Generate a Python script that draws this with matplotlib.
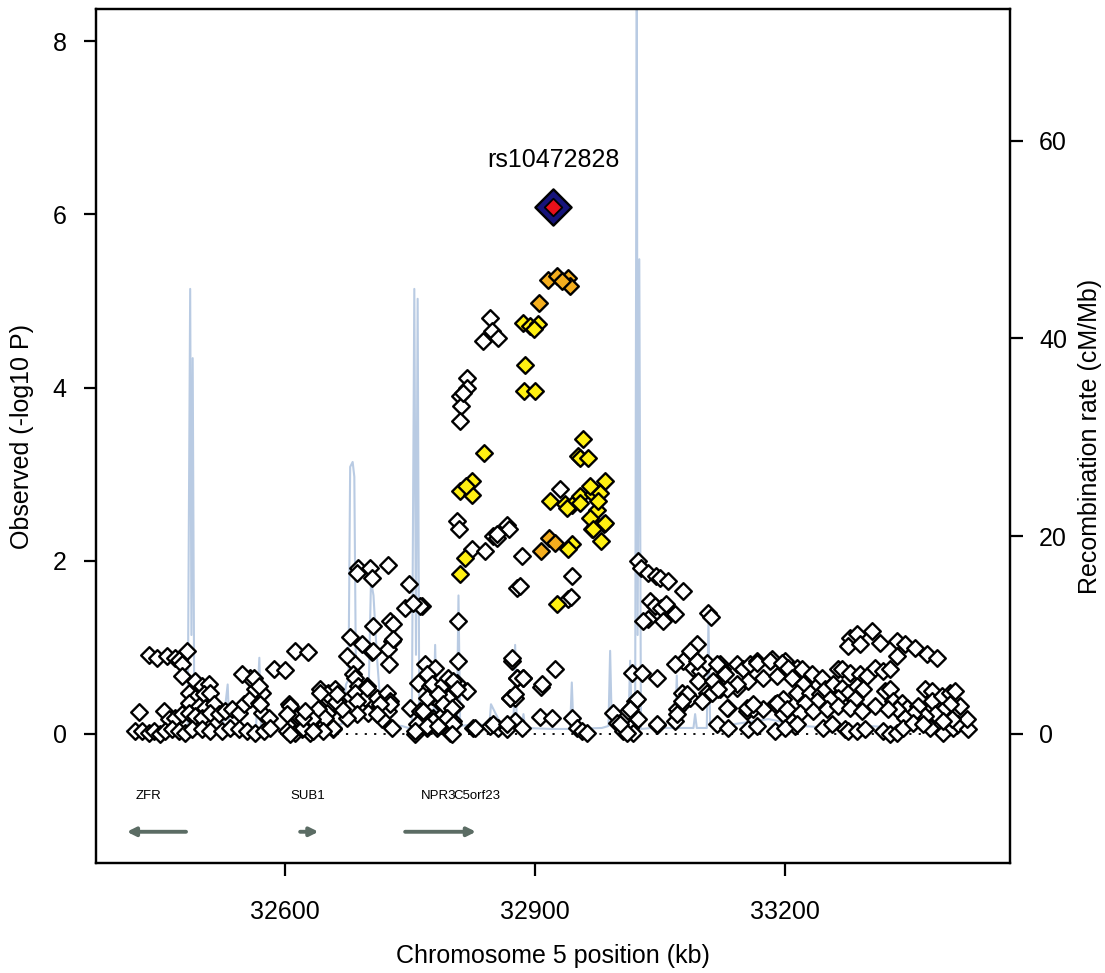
import numpy as np
import matplotlib
matplotlib.use("Agg")
import matplotlib.pyplot as plt

plt.rcParams['font.family'] = ['Liberation Sans', 'DejaVu Sans']

# ---- SNP data: position (kb) and -log10 P ----
lead_pos = 32922
lead_p = 6.09
lead_name = "rs10472828"

orange_pos = [32916, 32926, 32940, 32942, 32932, 32905, 32907, 32917, 32924]
orange_p = [5.24, 5.29, 5.26, 5.17, 5.23, 4.97, 2.11, 2.26, 2.20]

yellow_pos = [32886, 32894, 32904, 32899, 32888, 32887, 32900, 32839, 32810, 32824,
              32824, 32817, 32958, 32952, 32954, 32964, 32918, 32936, 32944, 32954,
              32970, 32984, 32978, 32974, 32972, 32983, 32979, 32968, 32966, 32816,
              32810, 32926, 32944, 32940, 32976, 32938, 32954, 32966, 32970, 32984]
yellow_p = [4.75, 4.71, 4.73, 4.68, 4.26, 3.96, 3.96, 3.24, 2.81, 2.92,
            2.76, 2.86, 3.41, 3.21, 3.19, 3.19, 2.69, 2.66, 2.64, 2.75,
            2.77, 2.92, 2.78, 2.58, 2.40, 2.42, 2.23, 2.37, 2.86, 2.03,
            1.85, 1.50, 2.19, 2.14, 2.69, 2.61, 2.67, 2.49, 2.37, 2.44]

white_pos = [
    # upper cluster near the peak
    32846, 32848, 32838, 32856, 32818, 32810, 32818, 32811, 32810, 32814,
    32806, 32809, 32850, 32854, 32866, 32869, 32884, 32878, 32882, 32944,
    32940, 32943, 32907, 32924, 32808, 32808, 32872, 32878, 32870, 32876,
    32908, 32930, 32824, 32840, 32854, 32764, 32886,
    # 33020 - 33110 shoulder
    33024, 33027, 33036, 33045, 33050, 33060, 33078, 33038, 33044, 33051,
    33057, 33036, 33054, 33068, 33108, 33111, 33030,
    # low 32900 - 33160
    32906, 32920, 32944, 32950, 32956, 32962, 32994, 32998, 33006, 33014,
    33012, 33020, 33024, 33018, 33016, 33028, 33046, 33046, 33068, 33070,
    33078, 33076, 33086, 33078, 33094, 33086, 33090, 33098, 33096, 33106,
    33106, 33100, 33112, 33122, 33124, 33128, 33114, 33142, 33150, 33158,
    33156, 33142, 33122, 33132, 33118, 33132, 33154, 33162, 33156, 33068,
    33094, 33118, 33142, 33166, 33184, 33200, 33214, 33130, 33188, 33198,
    33212, 33130, 33154, 33120, 33082, 33010, 33002, 33022, 33014, 33046,
    33076, 33070,
    # right block 33160 - 33420
    33304, 33278, 33286, 33276, 33290, 33314, 33334, 33344, 33356, 33370,
    33382, 33334, 33166, 33182, 33196, 33204, 33220, 33232, 33244, 33264,
    33268, 33278, 33290, 33298, 33308, 33318, 33326, 33174, 33190, 33208,
    33222, 33214, 33230, 33242, 33248, 33258, 33268, 33276, 33286, 33294,
    33284, 33264, 33254, 33238, 33224, 33198, 33190, 33174, 33162, 33202,
    33218, 33234, 33250, 33264, 33278, 33292, 33308, 33320, 33326, 33330,
    33340, 33346, 33360, 33368, 33376, 33376, 33388, 33398, 33404, 33410,
    33398, 33388, 33380, 33368, 33354, 33344, 33334, 33324, 33166, 33188,
    33200, 33214, 33246, 33256, 33272, 33276, 33286, 33296, 33318, 33326,
    33334, 33342, 33354, 33374, 33390, 33402, 33408, 33420, 33418, 33400,
    33390, 33366,
    # left block 32410 - 32630
    32436, 32446, 32458, 32468, 32472, 32482, 32476, 32476, 32424, 32492,
    32500, 32508, 32485, 32492, 32502, 32510, 32484, 32496, 32504, 32514,
    32454, 32460, 32468, 32476, 32484, 32492, 32500, 32510, 32520, 32528,
    32536, 32544, 32550, 32558, 32568, 32572, 32564, 32558, 32548, 32586,
    32600, 32572, 32580, 32420, 32428, 32436, 32442, 32450, 32456, 32464,
    32472, 32480, 32488, 32500, 32510, 32524, 32534, 32544, 32554, 32564,
    32574, 32582, 32602, 32612, 32620, 32630, 32604, 32614, 32624, 32612,
    32628, 32562, 32568, 32570, 32606, 32616, 32606, 32642, 32652, 32660,
    32664, 32642, 32650, 32638, 32648, 32658, 32630, 32622, 32602,
    # middle block 32630 - 32890
    32678, 32692, 32704, 32728, 32724, 32725, 32674, 32684, 32682, 32684,
    32688, 32698, 32684, 32696, 32686, 32710, 32722, 32726, 32714, 32724,
    32716, 32728, 32700, 32686, 32674, 32668, 32660, 32650, 32642, 32662,
    32640, 32648, 32632, 32658, 32646, 32634, 32622, 32624, 32768, 32780,
    32760, 32774, 32770, 32798, 32806, 32818, 32786, 32776, 32786, 32796,
    32804, 32750, 32762, 32778, 32790, 32802, 32758, 32756, 32770, 32782,
    32798, 32826, 32846, 32856, 32866, 32876, 32884, 32872, 32878, 32870,
    32876, 32688, 32702, 32724, 32704, 32686, 32749, 32744, 32762, 32754,
    32706, 32726, 32730, 32706, 32730, 32698, 32726, 32714, 32710, 32828,
    32850, 32866, 32776, 32790, 32796, 32802, 32806, 32770, 32784, 32790,
    32800, 32766, 32778, 32794, 32802, 32756, 32770, 32784, 32800, 32886]
white_p = [
    4.80, 4.65, 4.54, 4.57, 4.11, 3.90, 4.00, 3.79, 3.61, 3.94,
    2.46, 2.37, 2.29, 2.26, 2.41, 2.37, 2.06, 1.69, 1.71, 1.82,
    1.56, 1.58, 0.54, 0.75, 0.84, 1.30, 0.84, 0.65, 0.42, 0.42,
    0.58, 2.83, 2.14, 2.11, 2.31, 1.48, 0.65,
    2.00, 1.92, 1.86, 1.82, 1.80, 1.77, 1.65, 1.54, 1.48, 1.45,
    1.50, 1.33, 1.30, 1.39, 1.40, 1.35, 1.30,
    0.20, 0.18, 0.18, 0.07, 0.03, 0.01, 0.24, 0.13, 0.03, 0.07,
    0.27, 0.38, 0.17, 0.01, 0.70, 0.70, 0.65, 0.10, 0.15, 0.29,
    0.36, 0.47, 0.42, 0.84, 1.04, 0.96, 0.76, 0.73, 0.61, 0.82,
    0.47, 0.38, 0.47, 0.81, 0.75, 0.69, 0.61, 0.81, 0.75, 0.81,
    0.61, 0.53, 0.52, 0.30, 0.12, 0.07, 0.27, 0.29, 0.06, 0.81,
    0.84, 0.81, 0.58, 0.84, 0.87, 0.84, 0.76, 0.52, 0.35, 0.23,
    0.09, 0.30, 0.30, 0.52, 0.46, 0.01, 0.12, 0.40, 0.29, 0.12,
    0.38, 0.23,
    1.19, 1.11, 1.15, 1.02, 1.04, 1.05, 1.07, 1.04, 0.99, 0.92,
    0.88, 0.90, 0.82, 0.84, 0.82, 0.76, 0.75, 0.69, 0.64, 0.75,
    0.75, 0.70, 0.69, 0.67, 0.76, 0.73, 0.75, 0.65, 0.67, 0.65,
    0.58, 0.47, 0.47, 0.46, 0.52, 0.58, 0.53, 0.47, 0.55, 0.52,
    0.40, 0.42, 0.40, 0.38, 0.36, 0.40, 0.36, 0.29, 0.35, 0.29,
    0.24, 0.27, 0.29, 0.32, 0.30, 0.27, 0.32, 0.50, 0.52, 0.38,
    0.36, 0.30, 0.32, 0.52, 0.50, 0.38, 0.44, 0.47, 0.50, 0.32,
    0.35, 0.27, 0.23, 0.21, 0.23, 0.18, 0.29, 0.29, 0.09, 0.03,
    0.07, 0.12, 0.07, 0.12, 0.06, 0.03, 0.03, 0.06, 0.03, 0.00,
    0.01, 0.07, 0.13, 0.07, 0.01, 0.07, 0.12, 0.06, 0.17, 0.17,
    0.15, 0.12,
    0.91, 0.88, 0.90, 0.88, 0.85, 0.96, 0.81, 0.67, 0.25, 0.61,
    0.55, 0.58, 0.47, 0.42, 0.46, 0.47, 0.36, 0.32, 0.30, 0.35,
    0.27, 0.17, 0.18, 0.23, 0.24, 0.21, 0.18, 0.24, 0.23, 0.27,
    0.29, 0.24, 0.35, 0.40, 0.36, 0.47, 0.52, 0.64, 0.69, 0.75,
    0.74, 0.24, 0.18, 0.03, 0.03, 0.01, 0.03, 0.00, 0.03, 0.06,
    0.03, 0.01, 0.06, 0.06, 0.03, 0.03, 0.07, 0.06, 0.03, 0.01,
    0.03, 0.07, 0.03, 0.01, 0.06, 0.03, 0.35, 0.18, 0.21, 0.96,
    0.95, 0.64, 0.55, 0.35, 0.32, 0.21, 0.00, 0.52, 0.47, 0.52,
    0.38, 0.30, 0.24, 0.15, 0.12, 0.06, 0.01, 0.07, 0.23,
    1.12, 1.04, 0.95, 1.07, 0.98, 0.81, 0.90, 0.81, 0.69, 0.64,
    0.55, 0.55, 0.47, 0.42, 0.38, 0.42, 0.47, 0.38, 0.32, 0.27,
    0.17, 0.07, 0.24, 0.23, 0.18, 0.29, 0.38, 0.46, 0.47, 0.46,
    0.29, 0.18, 0.17, 0.07, 0.03, 0.03, 0.18, 0.27, 0.81, 0.76,
    0.59, 0.55, 0.69, 0.61, 0.59, 0.50, 0.52, 0.44, 0.36, 0.42,
    0.32, 0.30, 0.27, 0.18, 0.23, 0.15, 0.12, 0.00, 0.07, 0.07,
    0.01, 0.07, 0.09, 0.07, 0.06, 0.15, 0.07, 0.88, 0.65, 0.42,
    0.46, 1.92, 1.92, 1.95, 1.80, 1.86, 1.73, 1.45, 1.48, 1.51,
    1.25, 1.30, 1.27, 0.96, 1.10, 0.53, 0.35, 0.35, 0.23, 0.07,
    0.12, 0.12, 0.58, 0.58, 0.64, 0.61, 0.52, 0.42, 0.46, 0.35,
    0.30, 0.27, 0.15, 0.18, 0.12, 0.03, 0.09, 0.09, 0.00, 0.65]

# ---- recombination rate (cM/Mb) ----
recomb_pos = [32410, 32440, 32470, 32483, 32486, 32487.5, 32489, 32491, 32500, 32525,
              32531, 32533, 32540, 32565, 32569, 32571, 32590, 32620, 32650, 32668,
              32673, 32676, 32678, 32681, 32683, 32685, 32690, 32700, 32703, 32706,
              32710, 32716, 32740, 32752, 32755, 32757, 32759, 32761, 32770, 32778,
              32780, 32782, 32795, 32806, 32808, 32810, 32830, 32845, 32847, 32860,
              32874, 32876, 32878, 32884, 32886, 32888, 32920, 32942, 32944, 32946,
              32980, 32988, 32990, 32992, 33005, 33012, 33014, 33016, 33020, 33022,
              33023, 33025, 33027, 33040, 33068, 33070, 33072, 33090, 33092, 33094,
              33106, 33108, 33110, 33112, 33116, 33140, 33180, 33220, 33260, 33300,
              33340, 33380, 33420]
recomb_rate = [0.3, 0.4, 0.5, 0.5, 45, 10, 38, 0.5, 0.6, 0.5,
               5.0, 0.6, 0.5, 0.6, 7.7, 0.6, 0.5, 0.7, 0.8, 1.0,
               5.0, 5.5, 27, 27.5, 26, 5.0, 3.0, 3.5, 15.5, 14,
               8.0, 1.0, 0.8, 0.5, 45, 8.0, 44, 0.5, 1.0, 1.2,
               9.0, 1.0, 1.5, 0.8, 14, 0.8, 1.0, 0.8, 3.0, 0.8,
               0.8, 9.0, 0.8, 0.8, 2.0, 0.6, 0.5, 0.5, 5.2, 0.5,
               0.6, 0.8, 8.4, 0.8, 1.0, 1.0, 7.4, 1.0, 0.5, 80,
               10, 48, 0.5, 0.6, 0.6, 5.9, 0.6, 0.6, 2.0, 0.6,
               0.6, 11.4, 0.8, 1.0, 0.5, 1.0, 1.5, 0.8, 0.6, 0.8,
               0.6, 0.7, 0.5]

# ---- genes ----
gene_names = ["ZFR", "SUB1", "NPR3", "C5orf23"]
gene_start = [32410, 32618, 32744, 32812]
gene_end = [32481, 32640, 32829, 32829]
gene_strand = [-1, 1, 1, 1]
gene_label_pos = [32436, 32627, 32784, 32830]

fig = plt.figure(figsize=(11.05, 9.73), dpi=100)
ax = fig.add_axes([0.0869, 0.1131, 0.8272, 0.8776])
ax2 = ax.twinx()

ax2.plot(recomb_pos, recomb_rate, color='#b9cbe3', lw=1.5)
ax2.set_ylim(-13.05, 73.3)

ax.set_zorder(ax2.get_zorder() + 1)
ax.patch.set_visible(False)

ax.plot([32414, 33428], [0, 0], color='black', ls=(0, (1.2, 4)), lw=1.3)

ms = 72
ax.scatter(white_pos, white_p, marker='D', s=ms, facecolor='white',
           edgecolor='black', linewidths=1.7, zorder=3)
ax.scatter(yellow_pos, yellow_p, marker='D', s=ms, facecolor='#fff012',
           edgecolor='black', linewidths=1.7, zorder=4)
ax.scatter(orange_pos, orange_p, marker='D', s=ms, facecolor='#f4ae1e',
           edgecolor='black', linewidths=1.7, zorder=5)
ax.scatter([lead_pos], [lead_p], marker='D', s=340, facecolor='#16137a',
           edgecolor='black', linewidths=1.7, zorder=6)
ax.scatter([lead_pos], [lead_p], marker='D', s=80, facecolor='#e8101a',
           edgecolor='black', linewidths=1.3, zorder=7)
ax.text(lead_pos, lead_p + 0.40, lead_name, ha='center', va='bottom', fontsize=18)

for name, s0, e0, st, lp in zip(gene_names, gene_start, gene_end, gene_strand, gene_label_pos):
    ax.text(lp, -0.72, name, ha='center', va='center', fontsize=9.5)
    if name == "C5orf23":
        continue
    if st > 0:
        ax.annotate('', xy=(e0, -1.13), xytext=(s0, -1.13),
                    arrowprops=dict(arrowstyle='-|>,head_length=0.5,head_width=0.25',
                                    color='#5b6c64', lw=2.8, shrinkA=0, shrinkB=0))
    else:
        ax.annotate('', xy=(s0, -1.13), xytext=(e0, -1.13),
                    arrowprops=dict(arrowstyle='-|>,head_length=0.5,head_width=0.25',
                                    color='#5b6c64', lw=2.8, shrinkA=0, shrinkB=0))

ax.set_xlim(32373, 33470)
ax.set_ylim(-1.49, 8.37)
ax.set_xticks([32600, 32900, 33200])
ax.set_yticks([0, 2, 4, 6, 8])
ax2.set_yticks([0, 20, 40, 60])

for a in (ax, ax2):
    a.tick_params(labelsize=18, width=1.6, length=9, direction='out', pad=12)
    for sp in a.spines.values():
        sp.set_linewidth(1.6)
ax.tick_params(axis='x', pad=18)

ax.set_ylabel("Observed (-log10 P)", fontsize=18)
ax2.set_ylabel("Recombination rate (cM/Mb)", fontsize=18)
ax.set_xlabel("Chromosome 5 position (kb)", fontsize=18)
ax.yaxis.set_label_coords(-0.068, 0.5)
ax2.yaxis.set_label_coords(1.074, 0.5)
ax.xaxis.set_label_coords(0.5, -0.095)

fig.savefig("out.png", dpi=100)
